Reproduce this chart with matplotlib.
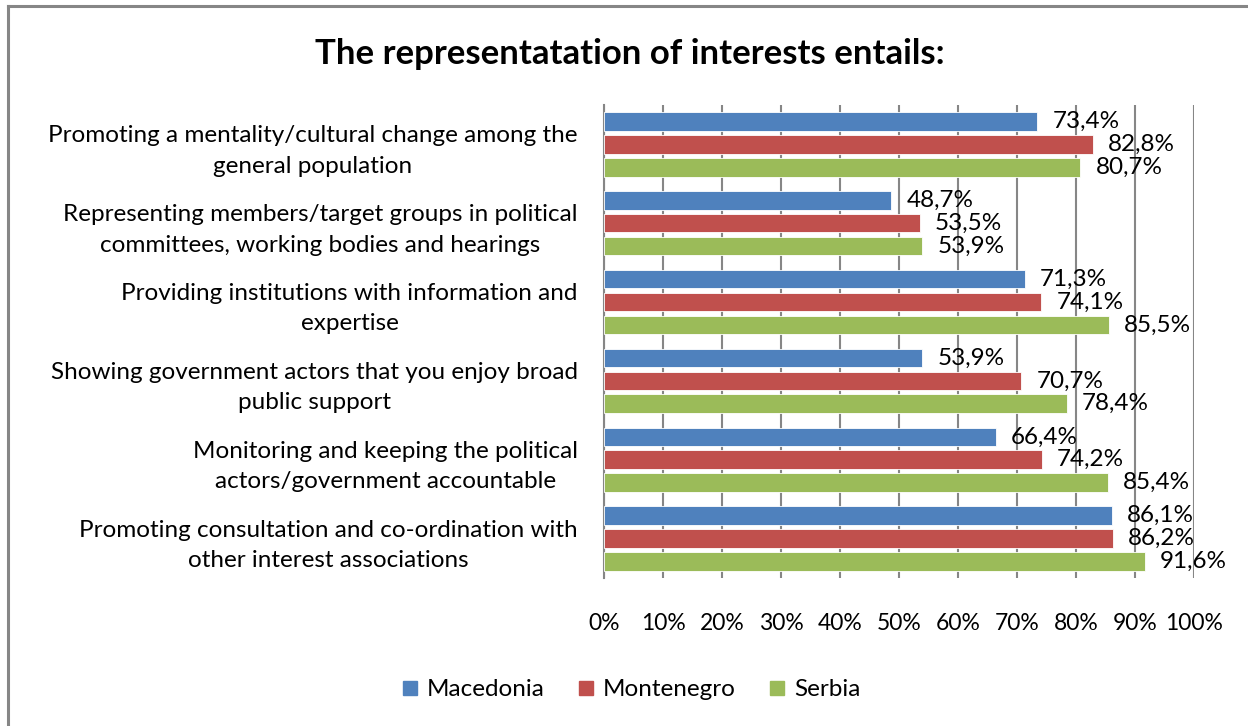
import numpy as np
import matplotlib.pyplot as plt
from matplotlib.lines import Line2D

plt.rcParams['font.family'] = ['Lato', 'DejaVu Sans']

categories = [
    "Promoting a mentality/cultural change among the\ngeneral population",
    "Representing members/target groups in political\ncommittees, working bodies and hearings",
    "Providing institutions with information and\nexpertise",
    "Showing government actors that you enjoy broad\npublic support",
    "Monitoring and keeping the political\nactors/government accountable",
    "Promoting consultation and co-ordination with\nother interest associations",
]
macedonia = [73.4, 48.7, 71.3, 53.9, 66.4, 86.1]
montenegro = [82.8, 53.5, 74.1, 70.7, 74.2, 86.2]
serbia = [80.7, 53.9, 85.5, 78.4, 85.4, 91.6]

series = [("Macedonia", macedonia, "#4F81BD"),
          ("Montenegro", montenegro, "#C0504D"),
          ("Serbia", serbia, "#9BBB59")]

fig = plt.figure(figsize=(12.48, 7.26), dpi=100)
ax = fig.add_axes([0.484, 0.2039, 0.4728, 0.6515])

y = np.arange(len(categories))
step = 0.29
for k, (name, vals, col) in enumerate(series):
    pos = y + (k - 1) * step
    ax.barh(pos, vals, height=0.235, color=col, edgecolor='white', linewidth=0.6, zorder=3)
    for p, v in zip(pos, vals):
        ax.annotate(f"{v:.1f}%".replace('.', ','), (v, p), xytext=(11, 0),
                    textcoords='offset points', va='center', ha='left',
                    fontsize=17.5, color='black', zorder=4)

ax.set_xlim(0, 100)
ax.set_ylim(len(categories) - 0.5, -0.5)
ax.set_xticks(np.arange(0, 101, 10))
ax.set_xticklabels([f"{t}%" for t in range(0, 101, 10)], fontsize=16.5)
ax.set_yticks(y)
ax.set_yticklabels(categories, fontsize=17.5, multialignment='center', linespacing=1.55)
ax.tick_params(axis='x', length=0, pad=25)
ax.tick_params(axis='y', length=0, pad=19)
ax.grid(axis='x', color='#868686', linewidth=1.5, zorder=0)
for s in ['top', 'right', 'bottom']:
    ax.spines[s].set_visible(False)
ax.spines['left'].set_color('#868686')
ax.spines['left'].set_linewidth(1.5)

fig.text(0.505, 0.926, "The representatation of interests entails:",
         ha='center', va='center', fontsize=25, fontweight='bold')

handles = [Line2D([], [], marker='s', linestyle='none', markersize=10,
                  markerfacecolor=c, markeredgecolor=c) for _, _, c in series]
fig.legend(handles, [n for n, _, _ in series], loc='center', ncol=3,
           bbox_to_anchor=(0.505, 0.0496), frameon=False, fontsize=17.5,
           handlelength=0.8, handletextpad=0.3, columnspacing=1.3)

# chart frame: only top and left edges show
fig.add_artist(Line2D([0.0064, 0.0064], [0, 0.9917], transform=fig.transFigure,
                      color='#868686', linewidth=2.2))
fig.add_artist(Line2D([0.0064, 1], [0.9917, 0.9917], transform=fig.transFigure,
                      color='#868686', linewidth=2.2))

fig.savefig("out.png", dpi=100)
